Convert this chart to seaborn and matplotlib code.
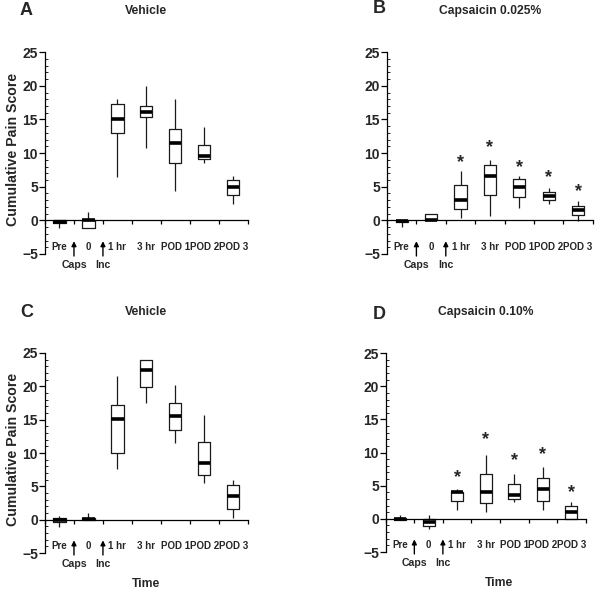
import numpy as np
import pandas as pd
import matplotlib
matplotlib.use('Agg')
import matplotlib.pyplot as plt
from matplotlib import font_manager
import seaborn as sns

# =============================================================================
# DATA: five-number summaries per time point
# =============================================================================
TIMES = ['Pre', '0', '1 hr', '3 hr', 'POD 1', 'POD 2', 'POD 3']

# Panel A - Vehicle
a_low = [-1.1, -1.1, 6.4, 10.7, 4.3, 8.5, 2.4]
a_q1 = [-0.4, -1.1, 13.0, 15.4, 8.6, 9.05, 3.7]
a_med = [-0.2, 0.0, 15.1, 16.1, 11.5, 9.6, 5.0]
a_q3 = [0.0, 0.1, 17.3, 17.0, 13.55, 11.25, 6.0]
a_high = [0.0, 1.3, 18.1, 20.0, 18.1, 13.9, 6.6]

# Panel B - Capsaicin 0.025%
b_low = [-1.05, 0.0, 0.4, 0.6, 1.9, 2.45, -0.1]
b_q1 = [-0.3, 0.0, 1.7, 3.7, 3.5, 3.0, 0.75]
b_med = [-0.1, 0.1, 3.05, 6.55, 5.0, 3.55, 1.55]
b_q3 = [0.0, 1.0, 5.2, 8.25, 6.1, 4.25, 2.2]
b_high = [0.0, 1.0, 7.3, 9.0, 6.55, 4.85, 2.95]
b_stars = [None, None, 8.65, 10.85, 7.8, 6.35, 4.3]

# Panel C - Vehicle
c_low = [-1.1, 0.0, 7.55, 17.55, 11.45, 5.45, 0.3]
c_q1 = [-0.4, 0.0, 9.95, 19.9, 13.4, 6.7, 1.65]
c_med = [-0.05, 0.1, 15.05, 22.45, 15.5, 8.45, 3.5]
c_q3 = [0.2, 0.3, 17.15, 24.0, 17.45, 11.65, 5.15]
c_high = [0.6, 0.95, 21.55, 24.0, 20.15, 15.75, 6.0]

# Panel D - Capsaicin 0.10%
d_low = [-0.1, -1.6, 1.35, 1.0, 2.5, 1.35, 0.0]
d_q1 = [-0.1, -1.1, 2.65, 2.45, 2.95, 2.7, 0.0]
d_med = [0.0, -0.45, 4.0, 4.05, 3.55, 4.5, 1.05]
d_q3 = [0.1, -0.05, 4.1, 6.8, 5.3, 6.1, 1.95]
d_high = [0.6, 0.55, 4.55, 9.7, 6.7, 7.9, 2.55]
d_stars = [None, None, 6.3, 11.9, 8.8, 9.7, 3.9]

# =============================================================================
# STYLE
# =============================================================================
sns.set_style('ticks')
plt.rcParams['font.family'] = ['Liberation Sans', 'DejaVu Sans']
plt.rcParams['font.weight'] = 'bold'

names = {f.name for f in font_manager.fontManager.ttflist}
if 'Liberation Sans Narrow' in names:
    TICK_FONT = ['Liberation Sans Narrow', 'Liberation Sans', 'DejaVu Sans']
    TICK_SIZE = 8.4
else:
    TICK_FONT = ['Liberation Sans', 'DejaVu Sans']
    TICK_SIZE = 7.0


def five_number_frame(low, q1, med, q3, high):
    # 5 values per box: with whis=(0, 100) seaborn reproduces them exactly
    rows = []
    for t, vals in zip(TIMES, zip(low, q1, med, q3, high)):
        for v in vals:
            rows.append({'time': t, 'score': v})
    return pd.DataFrame(rows)


def draw_panel(ax, df, title, stars=None, ylabel=False, time_x=None):
    sns.boxplot(data=df, x='time', y='score', order=TIMES, whis=(0, 100),
                width=0.42, fill=False, color='#1a1a1a', linewidth=0.9,
                showcaps=False, showfliers=False,
                medianprops={'linewidth': 2.6, 'color': 'black'}, ax=ax)

    ax.set_xlim(-0.5, 6.5)
    ax.set_ylim(-5, 25)
    ax.spines['right'].set_visible(False)
    ax.spines['top'].set_visible(False)
    ax.spines['bottom'].set_position(('data', 0))
    for sp in ('left', 'bottom'):
        ax.spines[sp].set_linewidth(0.9)
        ax.spines[sp].set_color('black')

    # x: labels under each category, tick marks on the boundaries
    ax.set_xticks(range(len(TIMES)))
    ax.set_xticklabels(TIMES, fontfamily=TICK_FONT, fontsize=TICK_SIZE,
                       fontweight='bold')
    ax.set_xticks(np.arange(-0.5, len(TIMES)), minor=True)
    ax.tick_params(axis='x', which='major', length=0, pad=15.5)
    ax.tick_params(axis='x', which='minor', length=3, width=0.9,
                   direction='out', color='black')

    # y: labelled every 5, small inner ticks every 1
    ax.set_yticks(np.arange(-5, 26, 5))
    ax.set_yticks(np.arange(-5, 26, 1), minor=True)
    ax.tick_params(axis='y', which='major', length=4, width=0.9,
                   labelsize=10, pad=1, color='black')
    ax.tick_params(axis='y', which='minor', length=2, width=0.6,
                   direction='in', color='black')
    for lab in ax.get_yticklabels():
        lab.set_fontweight('bold')

    ax.set_xlabel('')
    if ylabel:
        ax.set_ylabel('Cumulative Pain Score', fontsize=10.2, fontweight='bold')
        ax.yaxis.set_label_coords(-0.125, 0.52)
    else:
        ax.set_ylabel('')

    ax.text(0.5, 1.19, title, transform=ax.transAxes, ha='center',
            va='baseline', fontsize=8.7, fontweight='bold')

    # Caps / Inc arrows on the boundaries after Pre and after 0
    for xpos, lab in [(0.5, 'Caps'), (1.5, 'Inc')]:
        ax.annotate('', xy=(xpos, -3.1), xytext=(xpos, -5.3),
                    arrowprops=dict(arrowstyle='-|>', color='black', lw=1.0,
                                    mutation_scale=7, shrinkA=0, shrinkB=0),
                    annotation_clip=False)
        ax.text(xpos, -6.7, lab, ha='center', va='center', clip_on=False,
                fontfamily=TICK_FONT, fontsize=TICK_SIZE + 0.6,
                fontweight='bold')

    if stars is not None:
        for i, s in enumerate(stars):
            if s is not None:
                ax.text(i, s, '*', ha='center', va='center', fontsize=13,
                        fontweight='bold', clip_on=False)

    if time_x is not None:
        ax.text(time_x, -0.155, 'Time', transform=ax.transAxes, ha='center',
                va='center', fontsize=8.7, fontweight='bold')


fig = plt.figure(figsize=(6.0, 5.9), dpi=100)
ax_a = fig.add_axes([0.075, 0.5695, 0.338, 0.342])
ax_b = fig.add_axes([0.645, 0.5695, 0.343, 0.342])
ax_c = fig.add_axes([0.075, 0.0627, 0.338, 0.339])
ax_d = fig.add_axes([0.643, 0.0644, 0.333, 0.337])

draw_panel(ax_a, five_number_frame(a_low, a_q1, a_med, a_q3, a_high),
           'Vehicle', ylabel=True)
draw_panel(ax_b, five_number_frame(b_low, b_q1, b_med, b_q3, b_high),
           'Capsaicin 0.025%', stars=b_stars)
draw_panel(ax_c, five_number_frame(c_low, c_q1, c_med, c_q3, c_high),
           'Vehicle', ylabel=True, time_x=0.5)
draw_panel(ax_d, five_number_frame(d_low, d_q1, d_med, d_q3, d_high),
           'Capsaicin 0.10%', stars=d_stars, time_x=0.565)

for x, y, letter in [(20, 15, 'A'), (373, 13, 'B'), (20, 317, 'C'),
                     (373, 319, 'D')]:
    fig.text(x / 600, 1 - y / 590, letter, fontsize=13, fontweight='bold',
             va='baseline', ha='left')

fig.savefig('out.png', dpi=100)
